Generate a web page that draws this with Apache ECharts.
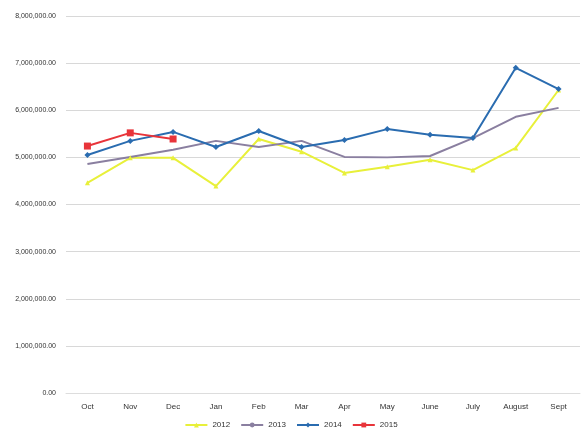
<!DOCTYPE html>
<html><head><meta charset="utf-8">
<script src="https://cdn.jsdelivr.net/npm/echarts@6/dist/echarts.min.js"></script>
<style>html,body{margin:0;background:#fff}#c{width:582px;height:436px}</style>
</head><body><div id="c"></div>
<script>
const months = ['Oct','Nov','Dec','Jan','Feb','Mar','Apr','May','June','July','August','Sept'];
const y2012 = [4460000,4990000,4990000,4390000,5390000,5120000,4670000,4800000,4950000,4730000,5200000,6430000];
const y2013 = [4860000,5010000,5160000,5350000,5220000,5350000,5010000,5000000,5030000,5410000,5860000,6050000];
const y2014 = [5050000,5350000,5540000,5220000,5560000,5220000,5370000,5600000,5480000,5410000,6900000,6450000];
const y2015 = [5240000,5520000,5390000];

const fmt = v => v.toLocaleString('en-US',{minimumFractionDigits:2,maximumFractionDigits:2});
function line(name, data, color, symbol, size) {
  return { name, type:'line', data, symbol, symbolSize:size,
    lineStyle:{color, width:2}, itemStyle:{color} };
}
const chart = echarts.init(document.getElementById('c'));
chart.setOption({
  animation:false,
  grid:{left:66,right:2,top:16,bottom:43},
  xAxis:{type:'category',data:months,
    axisLine:{lineStyle:{color:'#ddd'}},axisTick:{show:false},
    axisLabel:{color:'#333',fontSize:8,margin:10,interval:0}},
  yAxis:{type:'value',min:0,max:8000000,interval:1000000,
    axisLabel:{color:'#333',fontSize:7,formatter:fmt,margin:10},
    splitLine:{lineStyle:{color:'#d8d8d8'}}},
  legend:{bottom:2,left:'center',itemWidth:22,itemHeight:6,itemGap:10,
    textStyle:{fontSize:8,color:'#333'}},
  series:[
    line('2012',y2012,'#e8f03a','triangle',5),
    line('2013',y2013,'#8a7fa0','none',4),
    line('2014',y2014,'#2a6cb0','diamond',6),
    line('2015',y2015,'#e8343a','rect',7)
  ]
});
</script></body></html>
